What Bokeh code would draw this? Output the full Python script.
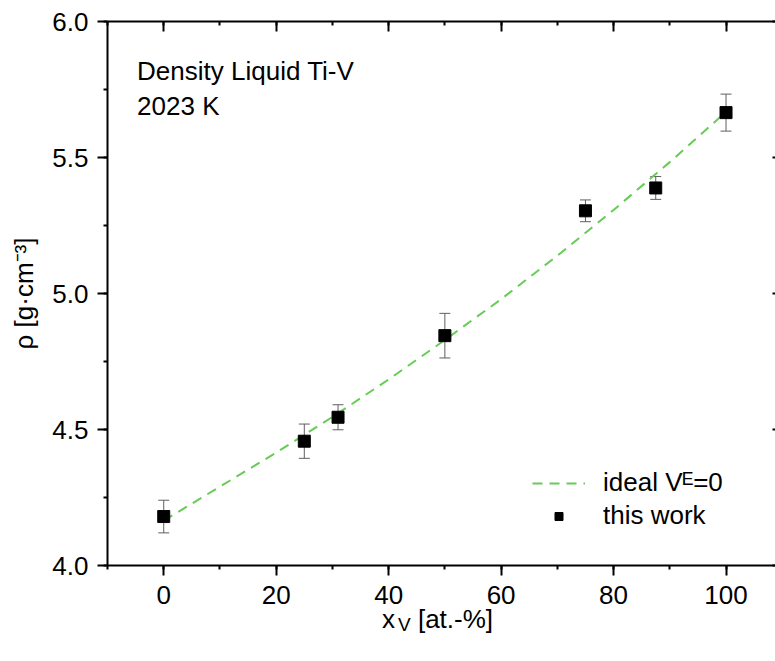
from bokeh.plotting import figure
from bokeh.models import (Range1d, LinearAxis, SingleIntervalTicker, FixedTicker, ColumnDataSource,
                          Whisker, TeeHead, Legend, LegendItem, Label, CustomJSTickFormatter,
                          PrintfTickFormatter, Div)
from bokeh.layouts import column
from bokeh.embed import file_html
from bokeh.resources import INLINE

# ---- data ----
x_v = [0, 25, 31, 50, 75, 87.5, 100]
rho = [4.18, 4.457, 4.545, 4.845, 5.304, 5.388, 5.665]
rho_err = [0.06, 0.063, 0.046, 0.082, 0.04, 0.042, 0.068]

ideal_x = [0, 10, 20, 30, 40, 50, 60, 70, 80, 90, 100]
ideal_rho = [4.165, 4.29, 4.415, 4.546, 4.684, 4.829, 4.979, 5.139, 5.307, 5.483, 5.668]

x_ticks = [0, 20, 40, 60, 80, 100]
y_ticks = [4.0, 4.5, 5.0, 5.5, 6.0]

FONT = "Liberation Sans"
FS = "26px"
GREEN = "#66cc55"

p = figure(width=775, height=620, output_backend="svg", toolbar_location=None,
           x_range=Range1d(-10, 108.8), y_range=Range1d(4.0, 6.0),
           x_axis_type=None, y_axis_type=None,
           min_border_left=107, min_border_right=0, min_border_top=21, min_border_bottom=55)
p.outline_line_color = None
p.background_fill_color = "white"
p.border_fill_color = "white"

def style(ax, major_in, major_out, minor_in, minor_out):
    ax.axis_line_width = 2
    ax.axis_line_color = "black"
    ax.major_tick_line_width = 2
    ax.minor_tick_line_width = 2
    ax.major_tick_in = major_in
    ax.major_tick_out = major_out
    ax.minor_tick_in = minor_in
    ax.minor_tick_out = minor_out
    ax.major_label_text_font = FONT
    ax.major_label_text_font_size = FS
    ax.major_label_text_color = "black"

xb = LinearAxis(ticker=SingleIntervalTicker(interval=20, num_minor_ticks=2))
style(xb, 0, 10, 0, 4)
xb.major_label_standoff = 10
p.add_layout(xb, "below")

yl = LinearAxis(ticker=SingleIntervalTicker(interval=0.5, num_minor_ticks=2),
                formatter=PrintfTickFormatter(format="%.1f"),
                axis_label="ρ [g·cm⁻³]")
style(yl, 0, 10, 0, 4)
yl.major_label_standoff = 9
yl.axis_label_text_font = FONT
yl.axis_label_text_font_size = FS
yl.axis_label_text_font_style = "normal"
yl.axis_label_text_color = "black"
yl.axis_label_standoff = 10
p.add_layout(yl, "left")

empty = CustomJSTickFormatter(code="return ''")
xt = LinearAxis(ticker=SingleIntervalTicker(interval=20, num_minor_ticks=2), formatter=empty)
style(xt, 10, 0, 4, 0)
xt.major_label_standoff = 0
p.add_layout(xt, "above")

yr = LinearAxis(ticker=SingleIntervalTicker(interval=0.5, num_minor_ticks=2), formatter=empty)
style(yr, 3, 0, 0, 0)
yr.axis_line_color = None
yr.major_label_standoff = 0
p.add_layout(yr, "right")

p.xgrid.ticker = FixedTicker(ticks=x_ticks)
p.ygrid.ticker = FixedTicker(ticks=y_ticks)
for g in (p.xgrid, p.ygrid):
    g.grid_line_color = "#bdbdbd"
    g.grid_line_dash = "1 3"
    g.grid_line_width = 1

src = ColumnDataSource(dict(x=x_v, y=rho,
                            lo=[r - e for r, e in zip(rho, rho_err)],
                            hi=[r + e for r, e in zip(rho, rho_err)]))
ideal = p.line(ideal_x, ideal_rho, line_color=GREEN, line_width=2, line_dash="10 7")
wh = Whisker(source=src, base="x", lower="lo", upper="hi", line_color="#606060", line_width=1,
             lower_head=TeeHead(size=11, line_color="#606060", line_width=1),
             upper_head=TeeHead(size=11, line_color="#606060", line_width=1),
             level="underlay")
p.add_layout(wh)
pts = p.scatter("x", "y", source=src, marker="square", size=12, fill_color="black", line_color="black")

leg = Legend(items=[LegendItem(label="ideal Vᴱ=0", renderers=[ideal]),
                    LegendItem(label="this work", renderers=[pts])],
             location=(425, 34), border_line_color=None, background_fill_color="white",
             background_fill_alpha=1, padding=6, spacing=2, margin=0,
             glyph_width=53, glyph_height=20, label_standoff=18,
             label_text_font=FONT, label_text_font_size=FS, label_text_color="black")
p.add_layout(leg, "center")

for txt, yy in (("Density Liquid Ti-V", 5.8185), ("2023 K", 5.690)):
    p.add_layout(Label(x=-4.74, y=yy, text=txt, text_font=FONT, text_font_size=FS,
                       text_color="black", text_baseline="alphabetic", text_align="left"))

# x axis title with subscript, as HTML text under the plot
xlabel = Div(text='x<span style="font-size:19px; vertical-align:-3px; margin-left:3px">V</span> [at.-%]',
             margin=(-16, 0, 0, 382),
             styles={"font-family": FONT, "font-size": FS, "line-height": "30px",
                     "color": "black", "white-space": "nowrap"})

layout = column(p, xlabel)
open("out.html", "w").write(file_html(layout, INLINE))
